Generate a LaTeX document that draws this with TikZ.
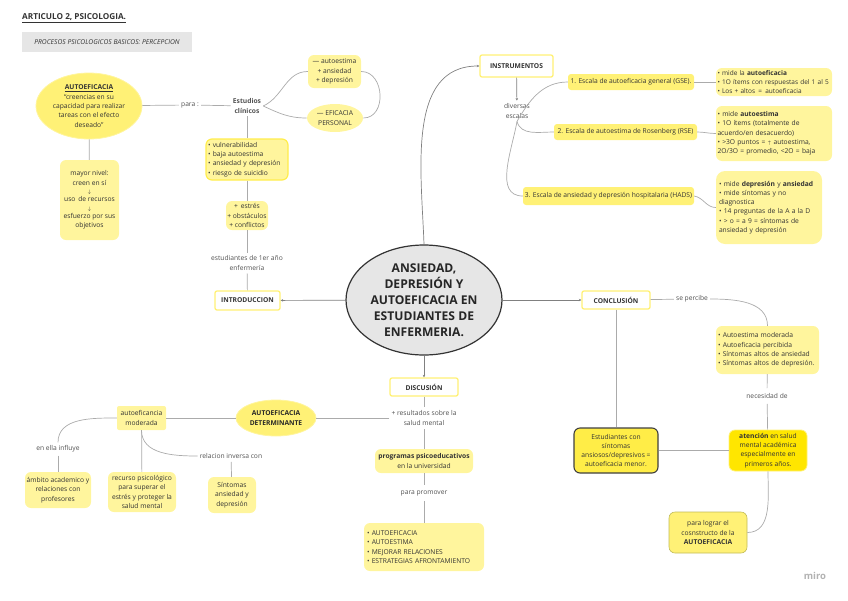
\documentclass[tikz,border=0pt]{standalone}
\usepackage{fontspec}
\setmainfont{Open Sans}
\usepackage{tikz}
\usetikzlibrary{arrows.meta,calc,positioning,shapes.geometric}
\definecolor{paleyellow}{HTML}{FFF59D}
\definecolor{midyellow}{HTML}{FFF176}
\definecolor{strongyellow}{HTML}{FFE600}
\definecolor{inkgray}{HTML}{333333}
\definecolor{linegray}{HTML}{ABABAB}
\definecolor{centergray}{HTML}{E6E6E6}
\newcommand{\smalltext}{\fontsize{6.7}{9.3}\selectfont}
\begin{document}
\begin{tikzpicture}[x=1pt,y=-1pt,
 every node/.style={text=inkgray,font=\smalltext,inner sep=0pt,align=center},
 yellowbox/.style={rectangle,rounded corners=6pt,fill=paleyellow},
 listbox/.style={yellowbox,align=left},
 yellowoval/.style={ellipse,fill=midyellow,draw=paleyellow,line width=0.8pt},
 strongbox/.style={yellowbox,fill=midyellow,draw=strongyellow!70!white,line width=1.2pt},
 scalebox/.style={rectangle,rounded corners=3pt,fill=midyellow},
 plainbox/.style={rectangle,rounded corners=2pt,fill=white,draw=midyellow,line width=1.3pt,font=\fontsize{6.7}{9}\selectfont\bfseries},
 linklabel/.style={inner xsep=2pt,inner ysep=3pt,text=inkgray!85!white},
 conn/.style={draw=linegray,line width=0.7pt},
 mainconn/.style={draw=gray,line width=0.7pt,-{Stealth[length=2.5pt,width=2.5pt]}}]

 \useasboundingbox (0,0) rectangle (848,600);

 \node[anchor=west,font=\fontsize{8.2}{10}\selectfont\bfseries] (title) at (22,18) {\underline{ARTICULO 2, PSICOLOGIA.}};
 \node[rectangle,fill=centergray,minimum width=170,minimum height=20,font=\fontsize{6.7}{8}\selectfont\itshape] (subtitle) at (107,42) {PROCESOS PSICOLOGICOS BASICOS: PERCEPCION};

 % centro
 \node[ellipse,fill=centergray,draw=inkgray,line width=1.2pt,minimum width=156,minimum height=110,font=\fontsize{12.1}{16}\selectfont\bfseries,text=black!85] (center) at (424,300) {ANSIEDAD,\\DEPRESIÓN Y\\AUTOEFICACIA EN\\ESTUDIANTES DE\\ENFERMERIA.};

 % izquierda arriba
 \node[yellowoval,minimum width=106,minimum height=66] (autoef) at (89,106) {{\bfseries\underline{AUTOEFICACIA}}\\``creencias en su\\capacidad para realizar\\tareas con el efecto\\deseado''};
 \node[yellowbox,minimum width=59,minimum height=80] (mayor) at (89.5,200) {mayor nivel:\\creen en sí\\[-1pt]{\tiny$\downarrow$}\\[-1pt]uso\, de recursos\\[-1pt]{\tiny$\downarrow$}\\[-1pt]esfuerzo por sus\\objetivos};
 \node[linklabel] (para) at (190,105) {para :};
 \node[linklabel,font=\smalltext\bfseries] (estudios) at (247,106) {Estudios\\clínicos};
 \node[yellowbox,minimum width=53,minimum height=33] (trio) at (334.5,71.5) {--- autoestima\\+ ansiedad\\+ depresión};
 \node[yellowoval,draw=none,fill=paleyellow,minimum width=56,minimum height=28] (eficacia) at (335,118) {--- EFICACIA\\PERSONAL};
 \node[strongbox,listbox,minimum width=82,minimum height=41,text width=78] (riesgos) at (247,159.5) {• vulnerabilidad\\• baja autoestima\\• ansiedad y depresión\\• riesgo de suicidio};
 \node[yellowbox,minimum width=42,minimum height=29] (estres) at (247,215.5) {+\, estrés\\+ obstáculos\\+ conflictos};
 \node[linklabel] (primero) at (247,263) {estudiantes de 1er año\\enfermería};
 \node[plainbox,minimum width=65,minimum height=19] (intro) at (247.5,300.5) {INTRODUCCION};

 % derecha arriba
 \node[plainbox,minimum width=73,minimum height=22] (instr) at (516.5,66) {INSTRUMENTOS};
 \node[linklabel] (diversas) at (517,111) {diversas\\escalas};
 \node[scalebox,minimum width=126,minimum height=16] (esca) at (631,82) {1. Escala de autoeficacia general (GSE).};
 \node[scalebox,minimum width=143,minimum height=16] (escb) at (625.5,132) {2. Escala de autoestima de Rosenberg (RSE)};
 \node[scalebox,minimum width=171,minimum height=18] (escc) at (608.5,196) {3. Escala de ansiedad y depresión hospitalaria (HADS)};
 \node[listbox,minimum width=116,minimum height=28,text width=113,font=\fontsize{6.5}{9.3}\selectfont] (resa) at (774,82) {• mide la \textbf{autoeficacia}\\• 1O ítems con respuestas del 1 al 5\\• Los + altos \,=\, autoeficacia};
 \node[listbox,minimum width=116,minimum height=55,text width=113] (resb) at (774,133.5) {• mide \textbf{autoestima}\\• 1O ítems (totalmente de\\acuerdo/en desacuerdo)\\• >3O puntos = {\tiny$\uparrow$} autoestima,\\2O/3O = promedio, <2O = baja};
 \node[listbox,rounded corners=9pt,minimum width=106,minimum height=73,text width=100] (resc) at (769,207.5) {• mide \textbf{depresión} y \textbf{ansiedad}\\• mide síntomas y no\\diagnostica\\• 14 preguntas de la A a la D\\• > o = a 9 = síntomas de\\ansiedad y depresión};

 % derecha abajo
 \node[plainbox,minimum width=68,minimum height=18] (concl) at (616,300) {CONCLUSIÓN};
 \node[linklabel] (percibe) at (692,299) {se percibe};
 \node[listbox,minimum width=103,minimum height=48,text width=99] (percib) at (767.5,350) {• Autoestima moderada\\• Autoeficacia percibida\\• Síntomas altos de ansiedad\\• Síntomas altos de depresión.};
 \node[linklabel,inner ysep=5pt] (necesidad) at (767,396) {necesidad de};
 \node[yellowbox,fill=strongyellow,draw=midyellow,line width=0.8pt,minimum width=78,minimum height=41] (atencion) at (768,450.5) {\textbf{atención} en salud\\mental académica\\especialmente en\\primeros años.};
 \node[yellowbox,fill=midyellow!60!strongyellow,draw=black!75,line width=1.1pt,minimum width=84,minimum height=45] (menor) at (616,450.5) {Estudiantes con\\síntomas\\ansiosos/depresivos =\\autoeficacia menor.};
 \node[yellowbox,fill=midyellow,draw=olive!55,line width=0.6pt,minimum width=78,minimum height=41] (lograr) at (708,532.5) {para lograr el\\cosnstructo de la\\\textbf{AUTOEFICACIA}};

 % abajo
 \node[plainbox,minimum width=68,minimum height=18] (discu) at (424,387) {DISCUSIÓN};
 \node[linklabel,inner ysep=4pt] (salud) at (424,418) {+ resultados sobre la\\salud mental};
 \node[yellowbox,minimum width=98,minimum height=24] (progr) at (424,461) {\textbf{programas psicoeducativos}\\en la universidad};
 \node[linklabel,inner ysep=5pt] (promover) at (424,493) {para promover};
 \node[listbox,minimum width=120,minimum height=48,text width=114] (metas) at (424,547) {• AUTOEFICACIA\\• AUTOESTIMA\\• MEJORAR RELACIONES\\• ESTRATEGIAS AFRONTAMIENTO};
 \node[yellowoval,minimum width=80,minimum height=36,font=\smalltext\bfseries,text=black!85] (determ) at (276,418) {AUTOEFICACIA\\DETERMINANTE};
 \node[yellowbox,rounded corners=2pt,minimum width=49,minimum height=24] (moder) at (141.5,418) {autoeficancia\\moderada};
 \node[linklabel] (influye) at (58,449) {en ella influye};
 \node[linklabel] (inversa) at (231,456) {relacion inversa con};
 \node[yellowbox,minimum width=66,minimum height=36] (ambito) at (58,490) {ámbito academico y\\relaciones con\\profesores};
 \node[yellowbox,minimum width=68,minimum height=40] (recurso) at (142,492) {recurso psicológico\\para superar el\\estrés y proteger la\\salud mental};
 \node[yellowbox,minimum width=48,minimum height=36] (sintomas) at (232,495) {Síntomas\\ansiedad y\\depresión};

 \node[text=gray!60,font=\fontsize{9.5}{11}\selectfont\bfseries] (miro) at (815,576) {miro};

 % conectores rectos
 \foreach \p/\q in {autoef/para,para/estudios,autoef/mayor,estudios/riesgos,riesgos/estres,estres/primero,primero/intro,
   esca/resa,concl/menor,menor/atencion,percib/necesidad,necesidad/atencion,concl/percibe,
   discu/salud,salud/progr,progr/promover,promover/metas,salud/determ,determ/moder,
   moder/recurso,influye/ambito,inversa/sintomas}
   \draw[conn] (\p) -- (\q);

 \foreach \p in {intro,concl,discu}
   \draw[mainconn] (center) -- (\p);
 \draw[mainconn] (instr) -- (diversas);

 % conectores curvos
 \draw[mainconn] (center.north) to[out=92,in=180] (instr.west);
 \draw[conn] (estudios.east) to[out=25,in=180] (trio.west);
 \draw[conn] (estudios.east) to[out=-25,in=180] (eficacia.west);
 \draw[conn] (trio.east) to[out=0,in=0,looseness=1.3] (eficacia.east);
 \draw[conn] (diversas.south) to[out=60,in=180] (esca.west);
 \draw[conn] (diversas.south) to[out=-75,in=180] (escb.west);
 \draw[conn] (diversas.south) to[out=-100,in=180] (escc.west);
 \draw[conn] (escb.east) to[out=0,in=180] (resb.west);
 \draw[conn] (escc.east) to[out=-10,in=180] (resc.west);
 \draw[conn] (percibe.east) to[out=0,in=90] (percib.north);
 \draw[conn] (atencion.south) to[out=-90,in=0] (lograr.east);
 \draw[conn] (moder.west) to[out=180,in=90] (influye.north);
 \draw[conn] (moder.south) to[out=-90,in=180] (inversa.west);
\end{tikzpicture}
\end{document}
